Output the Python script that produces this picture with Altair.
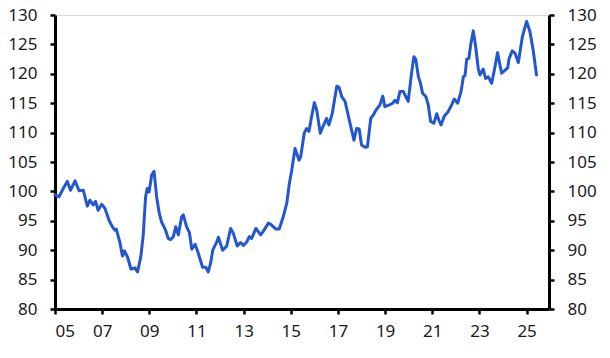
import altair as alt
import pandas as pd

years = [
    2005.00, 2005.17, 2005.35, 2005.52, 2005.66, 2005.85, 2006.02, 2006.20, 2006.37, 2006.48,
    2006.62, 2006.72, 2006.83, 2006.98, 2007.12, 2007.30, 2007.43, 2007.54, 2007.60, 2007.76,
    2007.86, 2007.94, 2008.08, 2008.22, 2008.39, 2008.50, 2008.64, 2008.74, 2008.84, 2008.91,
    2008.99, 2009.10, 2009.20, 2009.31, 2009.42, 2009.52, 2009.69, 2009.80, 2009.90, 2010.02,
    2010.12, 2010.23, 2010.37, 2010.44, 2010.58, 2010.70, 2010.80, 2010.94, 2011.06, 2011.15,
    2011.26, 2011.40, 2011.50, 2011.60, 2011.69, 2011.86, 2011.93, 2012.11, 2012.28, 2012.45,
    2012.56, 2012.73, 2012.87, 2012.99, 2013.13, 2013.24, 2013.34, 2013.52, 2013.72, 2013.83,
    2014.05, 2014.15, 2014.37, 2014.51, 2014.68, 2014.83, 2014.94, 2015.04, 2015.18, 2015.35,
    2015.42, 2015.57, 2015.67, 2015.77, 2015.88, 2016.00, 2016.10, 2016.25, 2016.33, 2016.52,
    2016.62, 2016.76, 2016.95, 2017.05, 2017.16, 2017.30, 2017.37, 2017.51, 2017.68, 2017.79,
    2017.90, 2018.00, 2018.15, 2018.25, 2018.39, 2018.50, 2018.61, 2018.78, 2018.90, 2018.99,
    2019.18, 2019.32, 2019.42, 2019.52, 2019.63, 2019.77, 2019.88, 2019.98, 2020.12, 2020.22,
    2020.30, 2020.41, 2020.48, 2020.59, 2020.73, 2020.83, 2020.93, 2021.07, 2021.19, 2021.28,
    2021.37, 2021.51, 2021.68, 2021.82, 2021.93, 2022.08, 2022.22, 2022.32, 2022.39, 2022.46,
    2022.55, 2022.64, 2022.74, 2022.84, 2022.95, 2023.02, 2023.16, 2023.26, 2023.37, 2023.52,
    2023.63, 2023.77, 2023.87, 2023.94, 2024.08, 2024.20, 2024.25, 2024.39, 2024.51, 2024.65,
    2024.82, 2025.00, 2025.14, 2025.28, 2025.42,
]

values = [
    99.4, 99.1, 100.5, 101.7, 100.2, 101.8, 100.1, 100.2, 97.5, 98.5,
    97.7, 98.3, 96.8, 97.8, 97.1, 95.0, 94.0, 93.4, 93.6, 91.2,
    89.0, 89.9, 88.8, 86.8, 87.0, 86.3, 88.9, 92.5, 99.0, 100.5,
    99.9, 102.8, 103.4, 99.1, 96.3, 94.8, 93.4, 92.0, 91.8, 92.3,
    94.0, 92.6, 95.7, 96.0, 94.0, 93.0, 90.2, 91.0, 89.7, 88.5,
    87.1, 87.1, 86.3, 87.8, 90.0, 91.4, 92.2, 90.0, 90.7, 93.7,
    92.9, 90.7, 91.3, 90.8, 91.4, 92.3, 92.0, 93.7, 92.6, 93.2,
    94.6, 94.4, 93.6, 93.6, 95.7, 98.0, 101.4, 103.6, 107.3, 105.3,
    105.9, 109.9, 110.7, 110.2, 112.7, 115.1, 113.8, 109.9, 110.7, 112.4,
    111.3, 113.3, 117.9, 117.7, 116.1, 115.3, 114.1, 111.6, 108.7, 110.7,
    110.6, 107.9, 107.5, 107.6, 112.4, 113.0, 113.8, 114.7, 116.2, 114.4,
    114.7, 115.0, 115.5, 115.1, 117.0, 117.0, 116.1, 115.3, 120.1, 122.9,
    122.5, 119.5, 118.7, 116.7, 116.1, 114.7, 111.9, 111.6, 113.2, 112.1,
    111.3, 112.8, 113.6, 114.7, 115.7, 115.0, 117.0, 119.5, 119.7, 122.5,
    122.6, 125.2, 127.3, 124.6, 120.9, 119.8, 120.8, 119.2, 119.5, 118.4,
    120.6, 123.6, 121.5, 120.1, 120.6, 121.0, 122.5, 123.9, 123.5, 121.9,
    126.3, 128.9, 127.2, 124.0, 119.8,
]

x_ticks = [2005, 2007, 2009, 2011, 2013, 2015, 2017, 2019, 2021, 2023, 2025]
y_ticks = [80, 85, 90, 95, 100, 105, 110, 115, 120, 125, 130]

df = pd.DataFrame({"year": years, "value": values})

FONT = "Noto Sans"
axis_common = dict(
    domainColor="black", domainWidth=3, tickColor="black", tickWidth=2.5, tickSize=5,
    labelFont=FONT, labelFontSize=17, labelColor="#1a1a1a", grid=False, title=None,
)

x_enc = alt.X(
    "year:Q",
    scale=alt.Scale(domain=[2005, 2025.95], nice=False, zero=False),
    axis=alt.Axis(values=x_ticks, labelExpr="substring(toString(datum.value), 2, 4)",
                  labelPadding=9, **axis_common),
)

left = alt.Chart(df).mark_line(color="#2257cf", strokeWidth=3, strokeJoin="round",
                               strokeCap="round").encode(
    x=x_enc,
    y=alt.Y("value:Q", scale=alt.Scale(domain=[80, 130], nice=False, zero=False),
            axis=alt.Axis(orient="left", values=y_ticks, labelPadding=13, **axis_common)),
)

right = alt.Chart(df).mark_line(opacity=0).encode(
    x=x_enc,
    y=alt.Y("value:Q", scale=alt.Scale(domain=[80, 130], nice=False, zero=False),
            axis=alt.Axis(orient="right", values=y_ticks, labelPadding=13, **axis_common)),
)

chart = alt.layer(left, right).resolve_axis(y="independent").properties(
    width=494, height=294,
    autosize=alt.AutoSizeParams(type="none"),
    padding={"left": 55, "top": 15, "right": 61, "bottom": 49},
).configure_view(stroke=None).configure(background="white")

chart.save("out.html", embed_options={"renderer": "svg", "actions": False})
